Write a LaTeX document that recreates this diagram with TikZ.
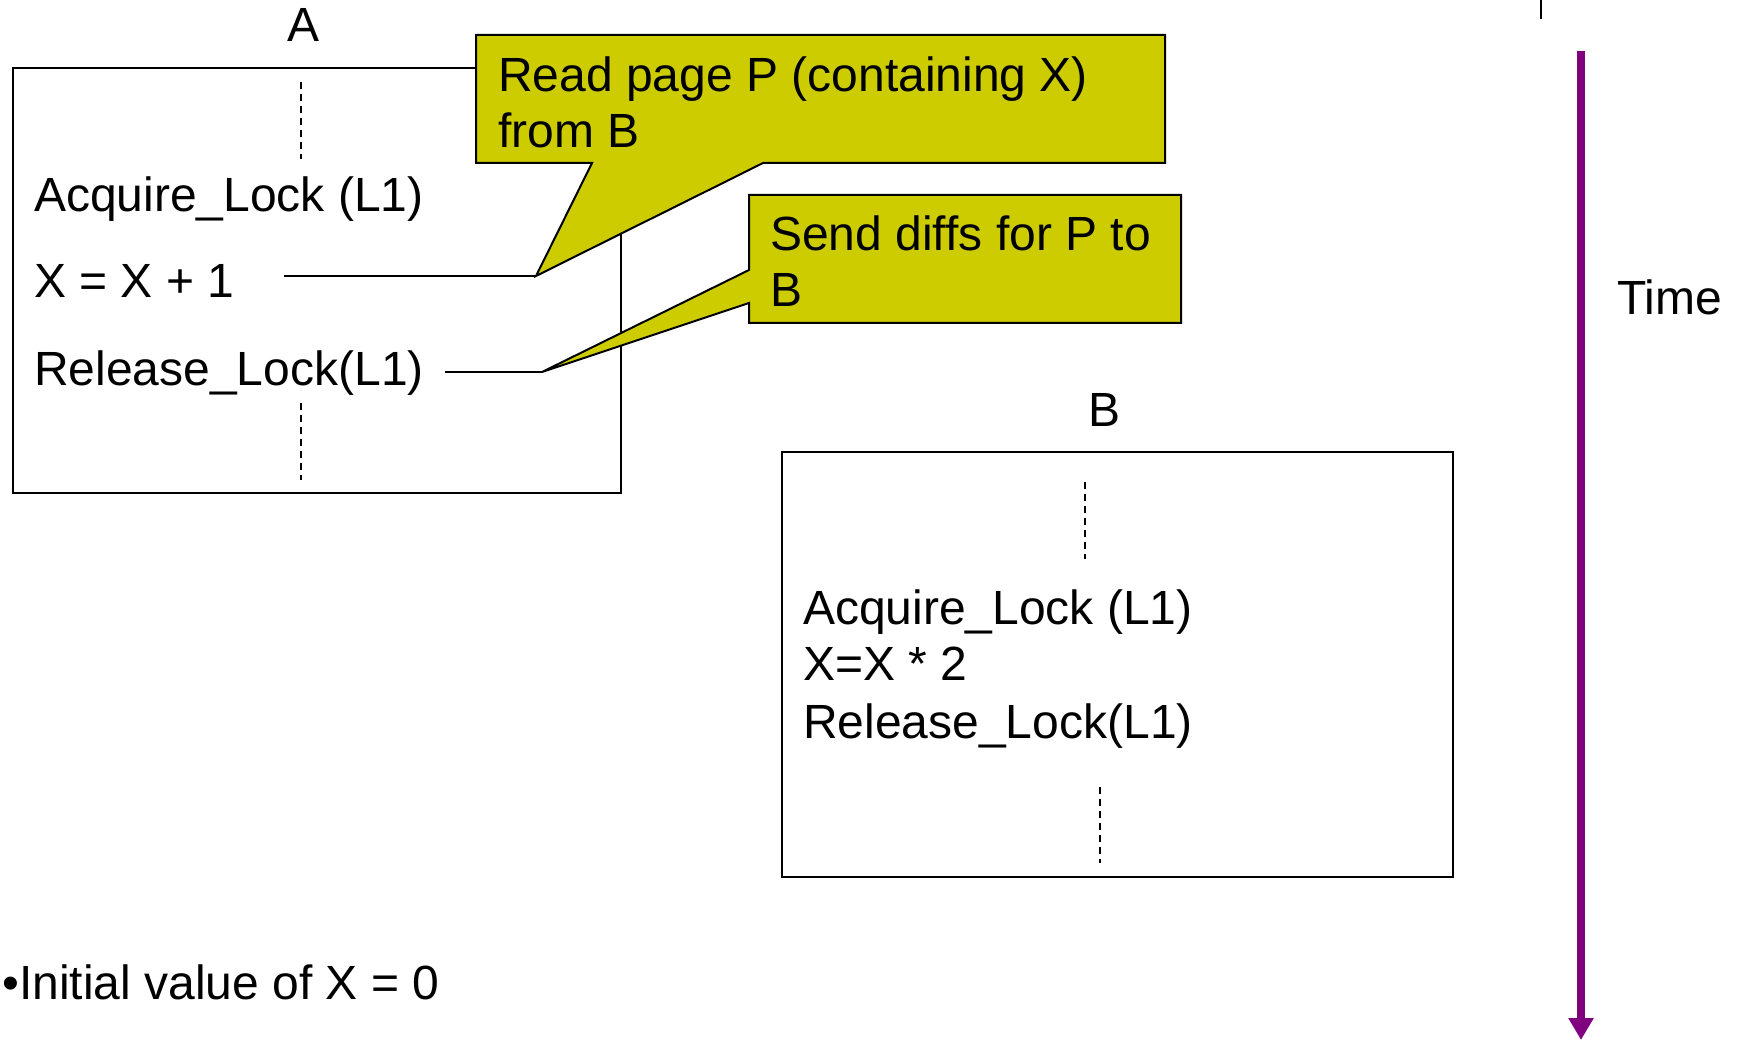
\documentclass[tikz,border=0pt]{standalone}
\usepackage{fontspec}
\setmainfont{Liberation Sans}
\usetikzlibrary{arrows.meta}
\definecolor{calloutfill}{HTML}{CCCC00}
\definecolor{timepurple}{HTML}{800080}

\begin{document}
\begin{tikzpicture}[x=1pt,y=-1pt,
  txt/.style={inner sep=0pt, anchor=base west, font=\fontsize{48}{56.5}\selectfont},
  ctxt/.style={txt, align=left},
  title/.style={inner sep=0pt, anchor=base, font=\fontsize{48}{56.5}\selectfont},
  procbox/.style={draw=black, line width=2pt, inner sep=0pt, anchor=north west},
  dashline/.style={line width=1.5pt, dash pattern=on 7pt off 5pt},
  leader/.style={line width=2pt},
  callout/.style={fill=calloutfill, draw=black, line width=2pt, line join=miter},
  timearrow/.style={draw=timepurple, line width=8pt, -{Triangle[width=24pt,length=22pt]}}
]
\useasboundingbox (0,0) rectangle (1740,1040);

% process A
\node[title] (labA) at (304,42) {A};
\node[procbox, minimum width=608pt, minimum height=425pt] (boxA) at (12,67) {};
\draw[dashline] (301,82) coordinate (a1s) -- (301,159) coordinate (a1e);
\draw[dashline] (301,403) coordinate (a2s) -- (301,480) coordinate (a2e);
\node[txt] (acqA) at (34,212) {Acquire\_Lock (L1)};
\node[txt] (incA) at (34,298) {X = X + 1};
\node[txt] (relA) at (34,385) {Release\_Lock(L1)};

% leaders from the statements to the callouts
\coordinate (l1s) at (284,276);
\coordinate (c1tip) at (536,276);
\coordinate (l2s) at (445,372);
\coordinate (c2tip) at (542,372);
\draw[leader] (l1s) -- (c1tip);
\draw[leader] (l2s) -- (c2tip);

% callout: page fetch (node base sits on the last line)
\draw[callout] (476,35) -- (1165,35) -- (1165,163) -- (763,163) -- (c1tip)
  -- (592,163) -- (476,163) -- cycle;
\node[ctxt] (c1text) at (498,148) {Read page P (containing X)\\from B};

% callout: diff propagation
\draw[callout] (749,195) -- (1181,195) -- (1181,323) -- (749,323) -- (749,303)
  -- (c2tip) -- (749,270) -- cycle;
\node[ctxt] (c2text) at (770,307) {Send diffs for P to\\B};

% process B
\node[title] (labB) at (1104,426) {B};
\node[procbox, minimum width=671pt, minimum height=425pt] (boxB) at (781,451) {};
\draw[dashline] (1085,482) coordinate (b1s) -- (1085,559) coordinate (b1e);
\draw[dashline] (1100,787) coordinate (b2s) -- (1100,863) coordinate (b2e);
\node[txt] (acqB) at (803,624) {Acquire\_Lock (L1)};
\node[txt] (mulB) at (803,680) {X=X * 2};
\node[txt] (relB) at (803,738) {Release\_Lock(L1)};

% time axis
\draw[line width=2pt] (1541,0) coordinate (tk1) -- (1541,19) coordinate (tk2);
\coordinate (tStart) at (1581,51);
\coordinate (tEnd) at (1581,1040);
\draw[timearrow] (tStart) -- (tEnd);
\node[txt] (time) at (1617,315) {Time};

% note
\node[txt] (note) at (2,999) {•Initial value of X = 0};
\end{tikzpicture}
\end{document}
